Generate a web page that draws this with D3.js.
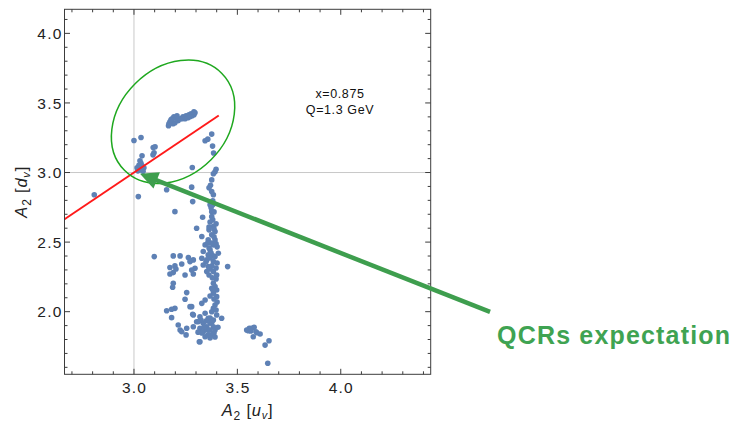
<!DOCTYPE html>
<html><head><meta charset="utf-8">
<script src="https://cdn.jsdelivr.net/npm/d3@7"></script>
<style>body{margin:0;background:#fff}svg{display:block}</style>
</head><body>
<svg id="chart" width="736" height="426"></svg>
<script>
// ---- data ----
const a2u = [
3.167,3.174,3.184,3.193,3.203,3.213,3.198,3.223,3.189,3.208,3.169,3.179,
3.237,3.252,3.266,3.276,3.290,3.281,3.261,3.247,3.290,3.271,3.232,3.295,
3.000,3.034,3.093,3.102,3.097,3.092,3.039,3.029,3.034,3.024,3.039,3.015,3.029,3.048,3.019,3.044,
3.021,2.808,3.158,3.198,3.282,3.279,3.284,3.332,
3.344,3.357,3.376,3.380,3.385,3.397,3.392,3.384,3.376,3.370,3.363,3.384,3.381,3.373,3.376,3.381,3.376,3.381,3.376,
3.384,3.392,3.376,3.303,3.328,3.359,3.392,3.384,3.344,3.368,3.335,3.408,3.359,3.392,3.328,3.352,3.384,3.335,3.359,3.453,
3.287,3.295,3.279,3.384,3.400,3.384,3.392,3.376,3.400,3.384,3.400,3.344,3.328,3.392,3.384,3.279,3.287,3.344,3.376,3.400,
3.319,3.359,3.384,3.424,3.303,3.335,3.368,3.287,3.352,3.384,3.319,3.359,3.392,3.335,3.376,3.344,3.319,
3.368,3.387,3.368,3.397,3.363,3.387,3.357,3.402,3.373,3.348,3.402,3.368,3.397,3.379,3.387,3.402,3.368,3.387,3.368,3.344,3.324,
3.174,3.247,3.287,3.352,3.190,3.187,3.255,3.247,3.271,3.198,3.182,3.158,3.284,3.182,3.214,3.223,3.255,3.311,3.252,3.316,3.231,
3.098,3.190,3.223,3.263,3.271,3.231,3.198,3.174,3.203,3.190,
3.363,3.387,3.373,3.397,3.363,3.382,3.368,3.397,3.377,3.363,3.382,3.368,3.397,3.348,3.377,3.329,3.358,3.392,3.339,3.406,3.310,3.368,
3.545,3.553,3.558,3.569,3.581,3.565,3.577,3.594,3.610,3.590,3.653,3.634,3.647
];
const a2d = [
3.336,3.365,3.386,3.401,3.394,3.372,3.358,3.386,3.350,3.408,3.350,3.379,
3.401,3.408,3.415,3.422,3.437,3.408,3.394,3.386,3.415,3.401,3.386,3.429,
3.230,3.252,3.180,3.185,3.142,3.127,3.120,3.084,3.066,3.052,3.048,3.034,3.019,3.034,3.012,3.009,
2.827,2.840,2.876,2.719,3.036,2.895,2.791,2.679,
3.228,3.240,3.276,3.190,3.140,3.024,3.005,2.991,2.947,2.908,2.890,2.840,2.796,2.746,2.719,2.768,2.683,2.660,2.863,
2.612,2.576,2.552,2.600,2.540,2.516,2.516,2.480,2.480,2.444,2.432,2.420,2.408,2.396,2.384,2.372,2.360,2.336,2.324,2.324,
2.372,2.312,2.300,2.288,2.264,2.204,2.180,2.168,2.156,2.132,2.108,2.084,2.060,2.048,2.024,2.036,1.976,1.989,2.000,1.976,
1.964,1.953,1.940,1.953,1.928,1.917,1.917,1.892,1.892,1.892,1.881,1.868,1.868,1.856,1.833,1.820,1.784,
2.768,2.717,2.645,2.631,2.588,2.538,2.494,2.466,2.422,2.358,2.350,2.307,2.235,2.243,2.091,2.070,1.955,1.847,1.811,1.876,1.940,
2.271,2.264,2.271,2.288,2.204,2.176,2.137,2.089,2.036,2.024,2.017,2.007,1.981,1.957,1.904,1.868,1.881,1.928,1.833,1.784,1.856,
2.396,2.401,2.401,2.389,2.360,2.343,2.329,2.317,2.307,2.281,
2.609,2.595,2.494,2.487,2.458,2.401,2.386,2.314,2.329,2.264,2.156,2.113,2.012,1.933,1.926,1.847,1.833,1.818,1.888,1.888,1.853,1.868,
1.868,1.863,1.881,1.881,1.888,1.861,1.820,1.849,1.840,1.856,1.791,1.760,1.629
];
const xTickLabels = ["3.0","3.5","4.0"];
const yTickLabels = ["2.0","2.5","3.0","3.5","4.0"];
const xMinorTicks = [2.7,2.8,2.9,3.0,3.1,3.2,3.3,3.4,3.5,3.6,3.7,3.8,3.9,4.0,4.1,4.2,4.3,4.4];
const yMinorTicks = [1.6,1.7,1.8,1.9,2.0,2.1,2.2,2.3,2.4,2.5,2.6,2.7,2.8,2.9,3.0,3.1,3.2,3.3,3.4,3.5,3.6,3.7,3.8,3.9,4.0,4.1];
const refU = [3.0], refD = [3.0];                 // grid reference lines
const diagU = [2.664, 3.41], diagD = [2.664, 3.41]; // red line u=d
const ellipseCenter = [3.189, 3.365];
const arrowFrom = [4.722, 1.998], arrowTo = [3.029, 2.991];
const infoLines = ["x=0.875", "Q=1.3 GeV"];
const calloutText = "QCRs expectation";

// ---- layout ----
const svg = d3.select("#chart");
const L = 64.5, R = 430.7, T = 9.3, B = 374.3;
const x = d3.scaleLinear().domain([2.664, 4.435]).range([L, R]);
const y = d3.scaleLinear().domain([1.55, 4.173]).range([B, T]);
const font = "'Liberation Sans', Arial, Helvetica, sans-serif";
const frameCol = "#3c3c3c";

// grid
svg.selectAll(".gx").data(refU).join("line")
  .attr("x1", d => x(d)).attr("x2", d => x(d)).attr("y1", T).attr("y2", B)
  .attr("stroke", "#c9c9c9").attr("stroke-width", 1);
svg.selectAll(".gy").data(refD).join("line")
  .attr("y1", d => y(d)).attr("y2", d => y(d)).attr("x1", L).attr("x2", R)
  .attr("stroke", "#c9c9c9").attr("stroke-width", 1);

// points
const pts = a2u.map((u, i) => [u, a2d[i]]);
svg.append("g").selectAll("circle").data(pts).join("circle")
  .attr("cx", d => x(d[0])).attr("cy", d => y(d[1])).attr("r", 2.8)
  .attr("fill", "#5e81b5");

// red line
svg.append("line")
  .attr("x1", x(diagU[0])).attr("y1", y(diagD[0]))
  .attr("x2", x(diagU[1])).attr("y2", y(diagD[1]))
  .attr("stroke", "#ff1a1a").attr("stroke-width", 2);

// ellipse
const cx = x(ellipseCenter[0]), cy = y(ellipseCenter[1]);
svg.append("ellipse").attr("cx", 0).attr("cy", 0).attr("rx", 68.7).attr("ry", 53.7)
  .attr("transform", `translate(${cx},${cy}) rotate(-45)`)
  .attr("fill", "none").attr("stroke", "#1fa81f").attr("stroke-width", 1.5);

// frame
svg.append("rect").attr("x", L).attr("y", T).attr("width", R - L).attr("height", B - T)
  .attr("fill", "none").attr("stroke", frameCol).attr("stroke-width", 1);

// ticks (inward, all four sides)
const isMajor = v => Math.abs(v * 2 - Math.round(v * 2)) < 1e-6;
const tg = svg.append("g").attr("stroke", frameCol).attr("stroke-width", 1);
xMinorTicks.forEach(v => {
  const len = isMajor(v) ? 5.5 : 3;
  tg.append("line").attr("x1", x(v)).attr("x2", x(v)).attr("y1", B).attr("y2", B - len);
  tg.append("line").attr("x1", x(v)).attr("x2", x(v)).attr("y1", T).attr("y2", T + len);
});
yMinorTicks.forEach(v => {
  const len = isMajor(v) ? 5.5 : 3;
  tg.append("line").attr("y1", y(v)).attr("y2", y(v)).attr("x1", L).attr("x2", L + len);
  tg.append("line").attr("y1", y(v)).attr("y2", y(v)).attr("x1", R).attr("x2", R - len);
});

// tick labels
svg.selectAll(".xl").data(xTickLabels).join("text")
  .attr("x", d => x(+d) + 0.6).attr("y", B + 19).attr("text-anchor", "middle")
  .attr("font-family", font).attr("font-size", 15.5).attr("letter-spacing", 1.2)
  .attr("fill", "#222").text(d => d);
svg.selectAll(".yl").data(yTickLabels).join("text")
  .attr("x", L - 2).attr("y", d => y(+d)).attr("dy", "0.36em").attr("text-anchor", "end")
  .attr("font-family", font).attr("font-size", 15.5).attr("letter-spacing", 1.2)
  .attr("fill", "#222").text(d => d);

// axis titles
function axisTitle(g, letter) {
  g.append("tspan").attr("font-style", "italic").text("A");
  g.append("tspan").attr("font-size", 12).attr("dy", 4).text("2");
  g.append("tspan").attr("dy", -4).text(" [");
  g.append("tspan").attr("font-style", "italic").text(letter);
  g.append("tspan").attr("font-style", "italic").attr("font-size", 11).attr("dy", 3).text("v");
  g.append("tspan").attr("dy", -3).text("]");
}
const xt = svg.append("text").attr("x", (L + R) / 2).attr("y", 416).attr("text-anchor", "middle")
  .attr("font-family", font).attr("font-size", 16.5).attr("letter-spacing", 0.8).attr("fill", "#222");
axisTitle(xt, "u");
const yt = svg.append("text").attr("transform", `translate(27,${(T + B) / 2}) rotate(-90)`)
  .attr("text-anchor", "middle").attr("font-family", font).attr("font-size", 16.5)
  .attr("letter-spacing", 0.8).attr("fill", "#222");
axisTitle(yt, "d");

// info text
svg.selectAll(".info").data(infoLines).join("text")
  .attr("x", 340).attr("y", (d, i) => 98 + i * 16).attr("text-anchor", "middle")
  .attr("font-family", font).attr("font-size", 12.5).attr("letter-spacing", 0.6)
  .attr("fill", "#111").text(d => d);

// arrow
const ax0 = x(arrowFrom[0]), ay0 = y(arrowFrom[1]);
const ax1 = x(arrowTo[0]), ay1 = y(arrowTo[1]);
const dx = ax1 - ax0, dy = ay1 - ay0, len = Math.hypot(dx, dy);
const ux = dx / len, uy = dy / len;
const headL = 18, headW = 8.8;
const bx = ax1 - ux * headL, by = ay1 - uy * headL;
const green = "#3e9e4e";
svg.append("line").attr("x1", ax0).attr("y1", ay0).attr("x2", bx + ux * 2).attr("y2", by + uy * 2)
  .attr("stroke", green).attr("stroke-width", 4.5);
svg.append("path")
  .attr("d", `M${ax1},${ay1} L${bx - uy * headW},${by + ux * headW} L${bx + uy * headW},${by - ux * headW} Z`)
  .attr("fill", green);

svg.append("text").attr("x", ax0 + 7).attr("y", ay0 + 32)
  .attr("font-family", font).attr("font-size", 25).attr("font-weight", "bold")
  .attr("textLength", 233).attr("lengthAdjust", "spacing")
  .attr("fill", "#3fa352").text(calloutText);
</script>
</body></html>
